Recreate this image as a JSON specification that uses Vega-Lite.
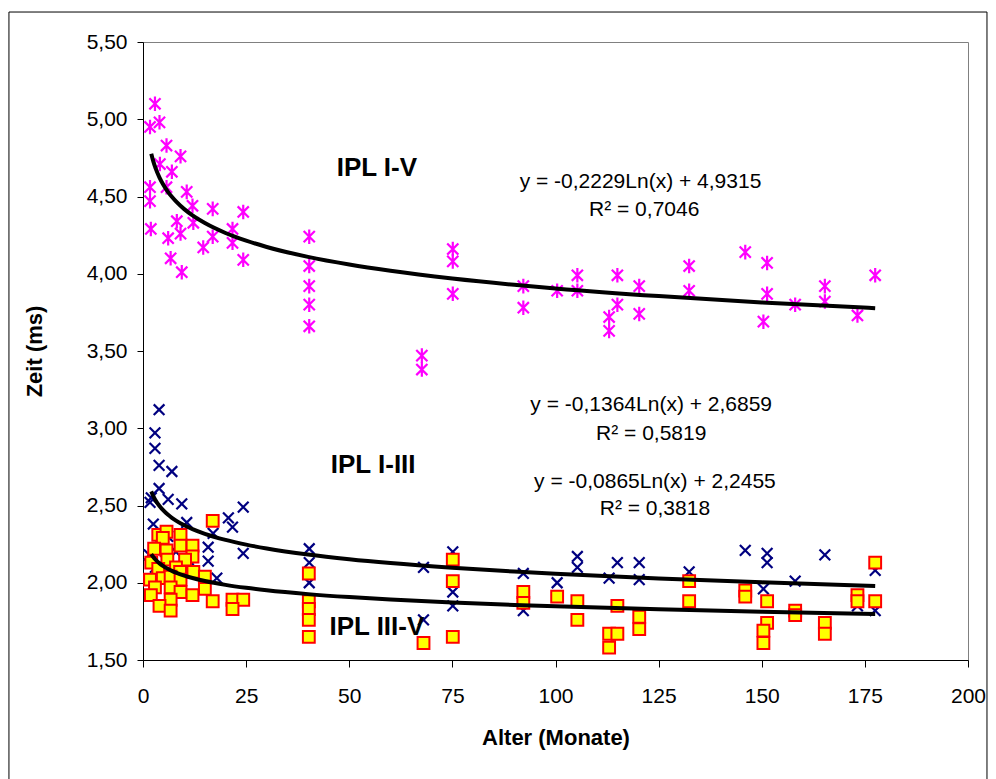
{
  "$schema": "https://vega.github.io/schema/vega-lite/v6.json",
  "width": 825,
  "height": 618,
  "autosize": {"type": "none"},
  "padding": {"left": 143, "top": 42, "right": 28, "bottom": 119},
  "background": "white",
  "config": {
    "view": {"stroke": "#808080", "strokeWidth": 1},
    "font": "Liberation Sans",
    "axis": {
      "grid": false,
      "domainColor": "#000000",
      "tickColor": "#000000",
      "labelColor": "#000000",
      "titleColor": "#000000",
      "labelFont": "Liberation Sans",
      "titleFont": "Liberation Sans",
      "labelFontSize": 21,
      "titleFontSize": 22,
      "titleFontWeight": "bold"
    }
  },
  "datasets": {
    "pts": [
      {"Alter": 2.9, "Zeit": 5.10, "Serie": "I-V"},
      {"Alter": 4.0, "Zeit": 4.98, "Serie": "I-V"},
      {"Alter": 1.7, "Zeit": 4.95, "Serie": "I-V"},
      {"Alter": 5.7, "Zeit": 4.83, "Serie": "I-V"},
      {"Alter": 9.1, "Zeit": 4.76, "Serie": "I-V"},
      {"Alter": 4.1, "Zeit": 4.71, "Serie": "I-V"},
      {"Alter": 7.0, "Zeit": 4.66, "Serie": "I-V"},
      {"Alter": 1.7, "Zeit": 4.56, "Serie": "I-V"},
      {"Alter": 5.7, "Zeit": 4.56, "Serie": "I-V"},
      {"Alter": 10.6, "Zeit": 4.53, "Serie": "I-V"},
      {"Alter": 1.7, "Zeit": 4.47, "Serie": "I-V"},
      {"Alter": 12.0, "Zeit": 4.44, "Serie": "I-V"},
      {"Alter": 16.9, "Zeit": 4.42, "Serie": "I-V"},
      {"Alter": 24.3, "Zeit": 4.40, "Serie": "I-V"},
      {"Alter": 8.2, "Zeit": 4.34, "Serie": "I-V"},
      {"Alter": 12.2, "Zeit": 4.33, "Serie": "I-V"},
      {"Alter": 1.9, "Zeit": 4.29, "Serie": "I-V"},
      {"Alter": 9.1, "Zeit": 4.26, "Serie": "I-V"},
      {"Alter": 6.1, "Zeit": 4.23, "Serie": "I-V"},
      {"Alter": 16.9, "Zeit": 4.24, "Serie": "I-V"},
      {"Alter": 21.7, "Zeit": 4.29, "Serie": "I-V"},
      {"Alter": 21.7, "Zeit": 4.20, "Serie": "I-V"},
      {"Alter": 14.6, "Zeit": 4.17, "Serie": "I-V"},
      {"Alter": 6.7, "Zeit": 4.10, "Serie": "I-V"},
      {"Alter": 24.3, "Zeit": 4.09, "Serie": "I-V"},
      {"Alter": 9.4, "Zeit": 4.01, "Serie": "I-V"},
      {"Alter": 40.3, "Zeit": 4.24, "Serie": "I-V"},
      {"Alter": 40.3, "Zeit": 4.05, "Serie": "I-V"},
      {"Alter": 40.3, "Zeit": 3.92, "Serie": "I-V"},
      {"Alter": 40.3, "Zeit": 3.80, "Serie": "I-V"},
      {"Alter": 40.3, "Zeit": 3.66, "Serie": "I-V"},
      {"Alter": 67.6, "Zeit": 3.47, "Serie": "I-V"},
      {"Alter": 67.6, "Zeit": 3.38, "Serie": "I-V"},
      {"Alter": 75.1, "Zeit": 4.16, "Serie": "I-V"},
      {"Alter": 75.1, "Zeit": 4.08, "Serie": "I-V"},
      {"Alter": 75.1, "Zeit": 3.87, "Serie": "I-V"},
      {"Alter": 92.2, "Zeit": 3.92, "Serie": "I-V"},
      {"Alter": 92.2, "Zeit": 3.78, "Serie": "I-V"},
      {"Alter": 100.4, "Zeit": 3.89, "Serie": "I-V"},
      {"Alter": 105.3, "Zeit": 3.99, "Serie": "I-V"},
      {"Alter": 105.3, "Zeit": 3.89, "Serie": "I-V"},
      {"Alter": 115.0, "Zeit": 3.99, "Serie": "I-V"},
      {"Alter": 115.0, "Zeit": 3.80, "Serie": "I-V"},
      {"Alter": 113.0, "Zeit": 3.72, "Serie": "I-V"},
      {"Alter": 113.0, "Zeit": 3.63, "Serie": "I-V"},
      {"Alter": 120.3, "Zeit": 3.92, "Serie": "I-V"},
      {"Alter": 120.3, "Zeit": 3.74, "Serie": "I-V"},
      {"Alter": 132.4, "Zeit": 4.05, "Serie": "I-V"},
      {"Alter": 132.4, "Zeit": 3.89, "Serie": "I-V"},
      {"Alter": 146.0, "Zeit": 4.14, "Serie": "I-V"},
      {"Alter": 151.3, "Zeit": 4.07, "Serie": "I-V"},
      {"Alter": 151.3, "Zeit": 3.87, "Serie": "I-V"},
      {"Alter": 150.4, "Zeit": 3.69, "Serie": "I-V"},
      {"Alter": 158.1, "Zeit": 3.80, "Serie": "I-V"},
      {"Alter": 165.3, "Zeit": 3.92, "Serie": "I-V"},
      {"Alter": 165.3, "Zeit": 3.82, "Serie": "I-V"},
      {"Alter": 173.2, "Zeit": 3.73, "Serie": "I-V"},
      {"Alter": 177.5, "Zeit": 3.99, "Serie": "I-V"},

      {"Alter": 3.9, "Zeit": 3.12, "Serie": "I-III"},
      {"Alter": 2.9, "Zeit": 2.97, "Serie": "I-III"},
      {"Alter": 2.9, "Zeit": 2.87, "Serie": "I-III"},
      {"Alter": 3.9, "Zeit": 2.76, "Serie": "I-III"},
      {"Alter": 7.0, "Zeit": 2.72, "Serie": "I-III"},
      {"Alter": 3.9, "Zeit": 2.61, "Serie": "I-III"},
      {"Alter": 2.0, "Zeit": 2.55, "Serie": "I-III"},
      {"Alter": 6.1, "Zeit": 2.54, "Serie": "I-III"},
      {"Alter": 9.4, "Zeit": 2.51, "Serie": "I-III"},
      {"Alter": 24.3, "Zeit": 2.49, "Serie": "I-III"},
      {"Alter": 1.7, "Zeit": 2.52, "Serie": "I-III"},
      {"Alter": 2.5, "Zeit": 2.38, "Serie": "I-III"},
      {"Alter": 10.6, "Zeit": 2.39, "Serie": "I-III"},
      {"Alter": 21.7, "Zeit": 2.36, "Serie": "I-III"},
      {"Alter": 20.7, "Zeit": 2.42, "Serie": "I-III"},
      {"Alter": 17.0, "Zeit": 2.32, "Serie": "I-III"},
      {"Alter": 24.3, "Zeit": 2.19, "Serie": "I-III"},
      {"Alter": 15.8, "Zeit": 2.23, "Serie": "I-III"},
      {"Alter": 15.8, "Zeit": 2.14, "Serie": "I-III"},
      {"Alter": 17.9, "Zeit": 2.03, "Serie": "I-III"},
      {"Alter": 1.5, "Zeit": 2.18, "Serie": "I-III"},
      {"Alter": 4.0, "Zeit": 2.25, "Serie": "I-III"},
      {"Alter": 6.0, "Zeit": 2.30, "Serie": "I-III"},
      {"Alter": 8.0, "Zeit": 2.20, "Serie": "I-III"},
      {"Alter": 11.0, "Zeit": 2.15, "Serie": "I-III"},
      {"Alter": 5.0, "Zeit": 2.05, "Serie": "I-III"},
      {"Alter": 3.0, "Zeit": 2.10, "Serie": "I-III"},
      {"Alter": 40.3, "Zeit": 2.22, "Serie": "I-III"},
      {"Alter": 40.3, "Zeit": 2.13, "Serie": "I-III"},
      {"Alter": 40.3, "Zeit": 2.00, "Serie": "I-III"},
      {"Alter": 68.0, "Zeit": 2.10, "Serie": "I-III"},
      {"Alter": 68.0, "Zeit": 1.76, "Serie": "I-III"},
      {"Alter": 75.1, "Zeit": 2.20, "Serie": "I-III"},
      {"Alter": 75.1, "Zeit": 1.94, "Serie": "I-III"},
      {"Alter": 75.1, "Zeit": 1.85, "Serie": "I-III"},
      {"Alter": 92.2, "Zeit": 2.06, "Serie": "I-III"},
      {"Alter": 92.2, "Zeit": 1.82, "Serie": "I-III"},
      {"Alter": 100.4, "Zeit": 2.00, "Serie": "I-III"},
      {"Alter": 105.3, "Zeit": 2.10, "Serie": "I-III"},
      {"Alter": 105.3, "Zeit": 2.17, "Serie": "I-III"},
      {"Alter": 113.0, "Zeit": 2.03, "Serie": "I-III"},
      {"Alter": 115.0, "Zeit": 2.13, "Serie": "I-III"},
      {"Alter": 120.3, "Zeit": 2.13, "Serie": "I-III"},
      {"Alter": 120.3, "Zeit": 2.02, "Serie": "I-III"},
      {"Alter": 132.4, "Zeit": 2.07, "Serie": "I-III"},
      {"Alter": 146.0, "Zeit": 2.21, "Serie": "I-III"},
      {"Alter": 151.3, "Zeit": 2.19, "Serie": "I-III"},
      {"Alter": 151.3, "Zeit": 2.13, "Serie": "I-III"},
      {"Alter": 150.4, "Zeit": 1.96, "Serie": "I-III"},
      {"Alter": 158.1, "Zeit": 2.01, "Serie": "I-III"},
      {"Alter": 165.3, "Zeit": 2.18, "Serie": "I-III"},
      {"Alter": 173.2, "Zeit": 1.85, "Serie": "I-III"},
      {"Alter": 177.5, "Zeit": 2.08, "Serie": "I-III"},
      {"Alter": 177.5, "Zeit": 1.82, "Serie": "I-III"},

      {"Alter": 16.9, "Zeit": 2.40, "Serie": "III-V"},
      {"Alter": 3.7, "Zeit": 2.31, "Serie": "III-V"},
      {"Alter": 5.7, "Zeit": 2.33, "Serie": "III-V"},
      {"Alter": 4.8, "Zeit": 2.29, "Serie": "III-V"},
      {"Alter": 9.1, "Zeit": 2.31, "Serie": "III-V"},
      {"Alter": 9.1, "Zeit": 2.24, "Serie": "III-V"},
      {"Alter": 12.0, "Zeit": 2.24, "Serie": "III-V"},
      {"Alter": 2.7, "Zeit": 2.22, "Serie": "III-V"},
      {"Alter": 5.7, "Zeit": 2.21, "Serie": "III-V"},
      {"Alter": 12.0, "Zeit": 2.17, "Serie": "III-V"},
      {"Alter": 10.2, "Zeit": 2.15, "Serie": "III-V"},
      {"Alter": 5.9, "Zeit": 2.15, "Serie": "III-V"},
      {"Alter": 2.0, "Zeit": 2.13, "Serie": "III-V"},
      {"Alter": 3.7, "Zeit": 2.09, "Serie": "III-V"},
      {"Alter": 8.0, "Zeit": 2.10, "Serie": "III-V"},
      {"Alter": 9.0, "Zeit": 2.07, "Serie": "III-V"},
      {"Alter": 12.2, "Zeit": 2.07, "Serie": "III-V"},
      {"Alter": 15.0, "Zeit": 2.04, "Serie": "III-V"},
      {"Alter": 1.7, "Zeit": 2.02, "Serie": "III-V"},
      {"Alter": 4.8, "Zeit": 2.03, "Serie": "III-V"},
      {"Alter": 6.7, "Zeit": 2.04, "Serie": "III-V"},
      {"Alter": 9.1, "Zeit": 2.02, "Serie": "III-V"},
      {"Alter": 2.9, "Zeit": 1.97, "Serie": "III-V"},
      {"Alter": 6.7, "Zeit": 1.97, "Serie": "III-V"},
      {"Alter": 15.0, "Zeit": 1.96, "Serie": "III-V"},
      {"Alter": 1.9, "Zeit": 1.92, "Serie": "III-V"},
      {"Alter": 9.1, "Zeit": 1.94, "Serie": "III-V"},
      {"Alter": 12.0, "Zeit": 1.92, "Serie": "III-V"},
      {"Alter": 6.7, "Zeit": 1.89, "Serie": "III-V"},
      {"Alter": 16.9, "Zeit": 1.88, "Serie": "III-V"},
      {"Alter": 21.7, "Zeit": 1.89, "Serie": "III-V"},
      {"Alter": 24.3, "Zeit": 1.89, "Serie": "III-V"},
      {"Alter": 21.7, "Zeit": 1.83, "Serie": "III-V"},
      {"Alter": 4.0, "Zeit": 1.85, "Serie": "III-V"},
      {"Alter": 6.7, "Zeit": 1.82, "Serie": "III-V"},
      {"Alter": 40.2, "Zeit": 2.06, "Serie": "III-V"},
      {"Alter": 40.2, "Zeit": 1.88, "Serie": "III-V"},
      {"Alter": 40.2, "Zeit": 1.83, "Serie": "III-V"},
      {"Alter": 40.2, "Zeit": 1.76, "Serie": "III-V"},
      {"Alter": 40.2, "Zeit": 1.65, "Serie": "III-V"},
      {"Alter": 68.0, "Zeit": 1.61, "Serie": "III-V"},
      {"Alter": 75.1, "Zeit": 2.15, "Serie": "III-V"},
      {"Alter": 75.1, "Zeit": 2.01, "Serie": "III-V"},
      {"Alter": 75.1, "Zeit": 1.65, "Serie": "III-V"},
      {"Alter": 92.2, "Zeit": 1.94, "Serie": "III-V"},
      {"Alter": 92.2, "Zeit": 1.87, "Serie": "III-V"},
      {"Alter": 100.4, "Zeit": 1.91, "Serie": "III-V"},
      {"Alter": 105.3, "Zeit": 1.88, "Serie": "III-V"},
      {"Alter": 105.3, "Zeit": 1.76, "Serie": "III-V"},
      {"Alter": 115.0, "Zeit": 1.85, "Serie": "III-V"},
      {"Alter": 113.0, "Zeit": 1.67, "Serie": "III-V"},
      {"Alter": 113.0, "Zeit": 1.58, "Serie": "III-V"},
      {"Alter": 115.0, "Zeit": 1.67, "Serie": "III-V"},
      {"Alter": 120.3, "Zeit": 1.78, "Serie": "III-V"},
      {"Alter": 120.3, "Zeit": 1.70, "Serie": "III-V"},
      {"Alter": 132.4, "Zeit": 2.01, "Serie": "III-V"},
      {"Alter": 132.4, "Zeit": 1.88, "Serie": "III-V"},
      {"Alter": 146.0, "Zeit": 1.95, "Serie": "III-V"},
      {"Alter": 146.0, "Zeit": 1.91, "Serie": "III-V"},
      {"Alter": 151.3, "Zeit": 1.88, "Serie": "III-V"},
      {"Alter": 151.3, "Zeit": 1.74, "Serie": "III-V"},
      {"Alter": 150.4, "Zeit": 1.69, "Serie": "III-V"},
      {"Alter": 150.4, "Zeit": 1.61, "Serie": "III-V"},
      {"Alter": 158.1, "Zeit": 1.82, "Serie": "III-V"},
      {"Alter": 158.1, "Zeit": 1.79, "Serie": "III-V"},
      {"Alter": 165.3, "Zeit": 1.74, "Serie": "III-V"},
      {"Alter": 165.3, "Zeit": 1.67, "Serie": "III-V"},
      {"Alter": 173.2, "Zeit": 1.92, "Serie": "III-V"},
      {"Alter": 173.2, "Zeit": 1.88, "Serie": "III-V"},
      {"Alter": 177.5, "Zeit": 2.13, "Serie": "III-V"},
      {"Alter": 177.5, "Zeit": 1.88, "Serie": "III-V"}
    ],
    "trend": [
      {"Alter": 2, "Zeit": 4.777, "Serie": "I-V"},
      {"Alter": 2.5, "Zeit": 4.7273, "Serie": "I-V"},
      {"Alter": 3, "Zeit": 4.6866, "Serie": "I-V"},
      {"Alter": 4, "Zeit": 4.6225, "Serie": "I-V"},
      {"Alter": 5, "Zeit": 4.5728, "Serie": "I-V"},
      {"Alter": 6, "Zeit": 4.5321, "Serie": "I-V"},
      {"Alter": 7, "Zeit": 4.4978, "Serie": "I-V"},
      {"Alter": 8, "Zeit": 4.468, "Serie": "I-V"},
      {"Alter": 10, "Zeit": 4.4183, "Serie": "I-V"},
      {"Alter": 12, "Zeit": 4.3776, "Serie": "I-V"},
      {"Alter": 15, "Zeit": 4.3279, "Serie": "I-V"},
      {"Alter": 20, "Zeit": 4.2638, "Serie": "I-V"},
      {"Alter": 25, "Zeit": 4.214, "Serie": "I-V"},
      {"Alter": 30, "Zeit": 4.1734, "Serie": "I-V"},
      {"Alter": 40, "Zeit": 4.1092, "Serie": "I-V"},
      {"Alter": 50, "Zeit": 4.0595, "Serie": "I-V"},
      {"Alter": 60, "Zeit": 4.0189, "Serie": "I-V"},
      {"Alter": 75, "Zeit": 3.9691, "Serie": "I-V"},
      {"Alter": 90, "Zeit": 3.9285, "Serie": "I-V"},
      {"Alter": 100, "Zeit": 3.905, "Serie": "I-V"},
      {"Alter": 125, "Zeit": 3.8553, "Serie": "I-V"},
      {"Alter": 150, "Zeit": 3.8146, "Serie": "I-V"},
      {"Alter": 177.5, "Zeit": 3.7771, "Serie": "I-V"},
      {"Alter": 2, "Zeit": 2.5914, "Serie": "I-III"},
      {"Alter": 2.5, "Zeit": 2.5609, "Serie": "I-III"},
      {"Alter": 3, "Zeit": 2.5361, "Serie": "I-III"},
      {"Alter": 4, "Zeit": 2.4968, "Serie": "I-III"},
      {"Alter": 5, "Zeit": 2.4664, "Serie": "I-III"},
      {"Alter": 6, "Zeit": 2.4415, "Serie": "I-III"},
      {"Alter": 7, "Zeit": 2.4205, "Serie": "I-III"},
      {"Alter": 8, "Zeit": 2.4023, "Serie": "I-III"},
      {"Alter": 10, "Zeit": 2.3718, "Serie": "I-III"},
      {"Alter": 12, "Zeit": 2.347, "Serie": "I-III"},
      {"Alter": 15, "Zeit": 2.3165, "Serie": "I-III"},
      {"Alter": 20, "Zeit": 2.2773, "Serie": "I-III"},
      {"Alter": 25, "Zeit": 2.2468, "Serie": "I-III"},
      {"Alter": 30, "Zeit": 2.222, "Serie": "I-III"},
      {"Alter": 40, "Zeit": 2.1827, "Serie": "I-III"},
      {"Alter": 50, "Zeit": 2.1523, "Serie": "I-III"},
      {"Alter": 60, "Zeit": 2.1274, "Serie": "I-III"},
      {"Alter": 75, "Zeit": 2.097, "Serie": "I-III"},
      {"Alter": 90, "Zeit": 2.0721, "Serie": "I-III"},
      {"Alter": 100, "Zeit": 2.0578, "Serie": "I-III"},
      {"Alter": 125, "Zeit": 2.0273, "Serie": "I-III"},
      {"Alter": 150, "Zeit": 2.0025, "Serie": "I-III"},
      {"Alter": 177.5, "Zeit": 1.9795, "Serie": "I-III"},
      {"Alter": 2, "Zeit": 2.1855, "Serie": "III-V"},
      {"Alter": 2.5, "Zeit": 2.1662, "Serie": "III-V"},
      {"Alter": 3, "Zeit": 2.1505, "Serie": "III-V"},
      {"Alter": 4, "Zeit": 2.1256, "Serie": "III-V"},
      {"Alter": 5, "Zeit": 2.1063, "Serie": "III-V"},
      {"Alter": 6, "Zeit": 2.0905, "Serie": "III-V"},
      {"Alter": 7, "Zeit": 2.0772, "Serie": "III-V"},
      {"Alter": 8, "Zeit": 2.0656, "Serie": "III-V"},
      {"Alter": 10, "Zeit": 2.0463, "Serie": "III-V"},
      {"Alter": 12, "Zeit": 2.0306, "Serie": "III-V"},
      {"Alter": 15, "Zeit": 2.0112, "Serie": "III-V"},
      {"Alter": 20, "Zeit": 1.9864, "Serie": "III-V"},
      {"Alter": 25, "Zeit": 1.9671, "Serie": "III-V"},
      {"Alter": 30, "Zeit": 1.9513, "Serie": "III-V"},
      {"Alter": 40, "Zeit": 1.9264, "Serie": "III-V"},
      {"Alter": 50, "Zeit": 1.9071, "Serie": "III-V"},
      {"Alter": 60, "Zeit": 1.8913, "Serie": "III-V"},
      {"Alter": 75, "Zeit": 1.872, "Serie": "III-V"},
      {"Alter": 90, "Zeit": 1.8563, "Serie": "III-V"},
      {"Alter": 100, "Zeit": 1.8472, "Serie": "III-V"},
      {"Alter": 125, "Zeit": 1.8279, "Serie": "III-V"},
      {"Alter": 150, "Zeit": 1.8121, "Serie": "III-V"},
      {"Alter": 177.5, "Zeit": 1.7975, "Serie": "III-V"}
    ],
    "ipl": [
      {"Alter": 56.7, "Zeit": 4.684, "label": "IPL I-V"},
      {"Alter": 55.8, "Zeit": 2.764, "label": "IPL I-III"},
      {"Alter": 56.7, "Zeit": 1.716, "label": "IPL III-V"}
    ],
    "eq": [
      {"Alter": 120.6, "Zeit": 4.594, "label": "y = -0,2229Ln(x) + 4,9315"},
      {"Alter": 121.5, "Zeit": 4.413, "label": "R² = 0,7046"},
      {"Alter": 123.2, "Zeit": 3.150, "label": "y = -0,1364Ln(x) + 2,6859"},
      {"Alter": 123.2, "Zeit": 2.966, "label": "R² = 0,5819"},
      {"Alter": 124.1, "Zeit": 2.652, "label": "y = -0,0865Ln(x) + 2,2455"},
      {"Alter": 124.1, "Zeit": 2.477, "label": "R² = 0,3818"}
    ]
  },
  "layer": [
    {
      "data": {"values": [{}]},
      "mark": {"type": "rect", "fillOpacity": 0, "stroke": "#000000", "strokeWidth": 1, "clip": false},
      "encoding": {
        "x": {"datum": -32.5, "type": "quantitative", "scale": {"domain": [0, 200], "nice": false, "zero": false},
          "axis": {"title": "Alter (Monate)", "values": [0, 25, 50, 75, 100, 125, 150, 175, 200], "tickSize": 7, "labelPadding": 18, "titlePadding": 21, "labelFlush": false}},
        "x2": {"datum": 204.6},
        "y": {"datum": 5.694, "type": "quantitative", "scale": {"domain": [1.5, 5.5], "nice": false, "zero": false},
          "axis": {"title": "Zeit (ms)", "values": [1.5, 2, 2.5, 3, 3.5, 4, 4.5, 5, 5.5], "tickSize": 6, "labelPadding": 10, "titlePadding": 40, "labelExpr": "replace(format(datum.value, '.2f'), '.', ',')"}},
        "y2": {"datum": 0.5}
      }
    },
    {
      "data": {"name": "pts"},
      "transform": [{"filter": "datum.Serie === 'I-V'"}],
      "mark": {"type": "point", "shape": "M-1,-1L1,1M-1,1L1,-1M0,-1.3L0,1.3", "filled": false, "stroke": "#FF00FF", "strokeWidth": 2.2, "size": 125, "opacity": 1},
      "encoding": {
        "x": {"field": "Alter", "type": "quantitative", "scale": {"domain": [0, 200], "nice": false, "zero": false},
          "axis": {"title": "Alter (Monate)", "values": [0, 25, 50, 75, 100, 125, 150, 175, 200], "tickSize": 7, "labelPadding": 18, "titlePadding": 21, "labelFlush": false}},
        "y": {"field": "Zeit", "type": "quantitative", "scale": {"domain": [1.5, 5.5], "nice": false, "zero": false},
          "axis": {"title": "Zeit (ms)", "values": [1.5, 2, 2.5, 3, 3.5, 4, 4.5, 5, 5.5], "tickSize": 6, "labelPadding": 10, "titlePadding": 40, "labelExpr": "replace(format(datum.value, '.2f'), '.', ',')"}}
      }
    },
    {
      "data": {"name": "pts"},
      "transform": [{"filter": "datum.Serie === 'I-III'"}],
      "mark": {"type": "point", "shape": "M-1,-1L1,1M-1,1L1,-1", "filled": false, "stroke": "#000080", "strokeWidth": 2.2, "size": 115, "opacity": 1},
      "encoding": {
        "x": {"field": "Alter", "type": "quantitative", "title": "Alter (Monate)"},
        "y": {"field": "Zeit", "type": "quantitative", "title": "Zeit (ms)"}
      }
    },
    {
      "data": {"name": "pts"},
      "transform": [{"filter": "datum.Serie === 'III-V'"}],
      "mark": {"type": "square", "fill": "#FFFF00", "stroke": "#FF0000", "strokeWidth": 2, "size": 140, "opacity": 1},
      "encoding": {
        "x": {"field": "Alter", "type": "quantitative", "title": "Alter (Monate)"},
        "y": {"field": "Zeit", "type": "quantitative", "title": "Zeit (ms)"}
      }
    },
    {
      "data": {"name": "trend"},
      "mark": {"type": "line", "color": "#000000", "strokeWidth": 4, "interpolate": "monotone"},
      "encoding": {
        "x": {"field": "Alter", "type": "quantitative", "title": "Alter (Monate)"},
        "y": {"field": "Zeit", "type": "quantitative", "title": "Zeit (ms)"},
        "detail": {"field": "Serie"}
      }
    },
    {
      "data": {"name": "ipl"},
      "mark": {"type": "text", "font": "Liberation Sans", "fontWeight": "bold", "fontSize": 26, "align": "center", "baseline": "middle", "color": "#000000"},
      "encoding": {
        "x": {"field": "Alter", "type": "quantitative", "title": "Alter (Monate)"},
        "y": {"field": "Zeit", "type": "quantitative", "title": "Zeit (ms)"},
        "text": {"field": "label"}
      }
    },
    {
      "data": {"name": "eq"},
      "mark": {"type": "text", "font": "Liberation Sans", "fontSize": 21, "align": "center", "baseline": "middle", "color": "#000000"},
      "encoding": {
        "x": {"field": "Alter", "type": "quantitative", "title": "Alter (Monate)"},
        "y": {"field": "Zeit", "type": "quantitative", "title": "Zeit (ms)"},
        "text": {"field": "label"}
      }
    }
  ]
}
